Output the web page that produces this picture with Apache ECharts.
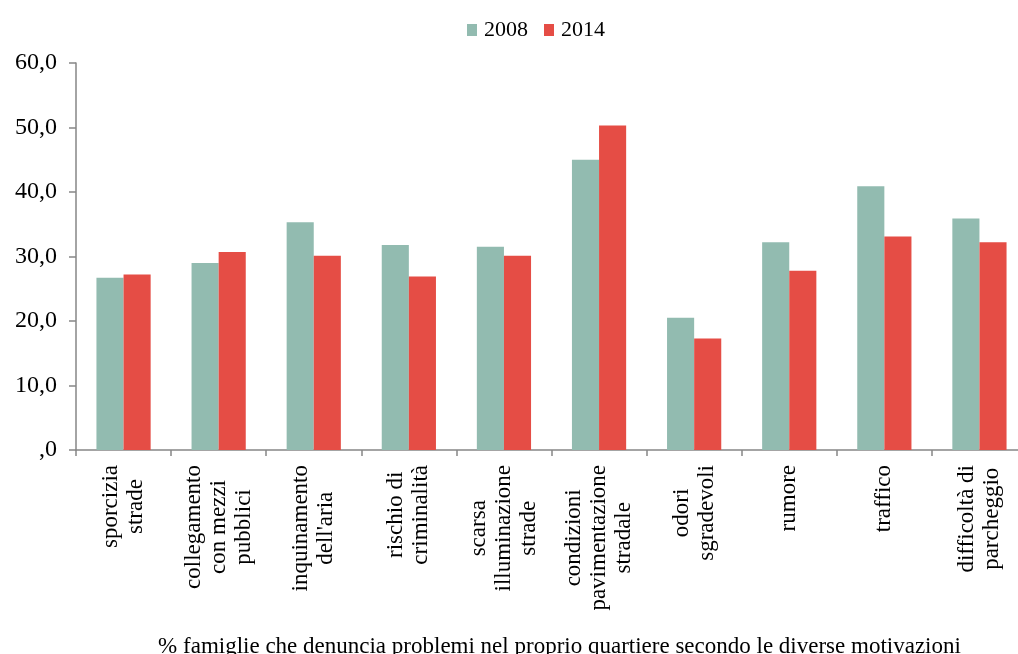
<!DOCTYPE html>
<html>
<head>
<meta charset="utf-8">
<script src="https://cdn.jsdelivr.net/npm/echarts@6/dist/echarts.min.js"></script>
<style>
html,body{margin:0;padding:0;background:#fff;}
#c{width:1018px;height:654px;}
</style>
</head>
<body>
<div id="c"></div>
<script>
const categories = [
  "sporcizia\nstrade",
  "collegamento\ncon mezzi\npubblici",
  "inquinamento\ndell'aria",
  "rischio di\ncriminalità",
  "scarsa\nilluminazione\nstrade",
  "condizioni\npavimentazione\nstradale",
  "odori\nsgradevoli",
  "rumore",
  "traffico",
  "difficoltà di\nparcheggio"
];
const values2008 = [26.7, 29.0, 35.3, 31.8, 31.5, 45.0, 20.5, 32.2, 40.9, 35.9];
const values2014 = [27.2, 30.7, 30.1, 26.9, 30.1, 50.3, 17.3, 27.8, 33.1, 32.2];
const seriesNames = ["2008", "2014"];
const axisTitle = "% famiglie che denuncia problemi nel proprio quartiere secondo le diverse motivazioni";

const FONT = "'Liberation Serif', 'Times New Roman', serif";
const chart = echarts.init(document.getElementById('c'), null, {renderer: 'canvas'});
chart.setOption({
  animation: false,
  backgroundColor: '#ffffff',
  textStyle: {fontFamily: FONT, color: '#000'},
  legend: {
    data: seriesNames,
    top: 14,
    left: 462,
    itemWidth: 10,
    itemHeight: 12,
    itemGap: 16,
    icon: 'rect',
    textStyle: {fontFamily: FONT, fontSize: 22, color: '#000', padding: [0,0,0,2]}
  },
  grid: {left: 76, right: -9, top: 63, bottom: 204, containLabel: false, outerBoundsMode: 'none'},
  xAxis: {
    type: 'category',
    data: categories,
    name: axisTitle,
    nameLocation: 'middle',
    nameGap: 185,
    nameTextStyle: {fontFamily: FONT, fontSize: 23, color: '#000', padding: [0, 0, 0, 16]},
    axisLine: {show: true, lineStyle: {color: '#868686', width: 1.5}},
    axisTick: {show: true, alignWithLabel: false, length: 6, lineStyle: {color: '#868686', width: 1.5}},
    axisLabel: {
      interval: 0,
      rotate: 90,
      margin: 15,
      fontFamily: FONT,
      fontSize: 23,
      color: '#000',
      formatter: function (v) {
        return v.split('\n').map(function (s) { return '{c|' + s + '}'; }).join('\n');
      },
      rich: {c: {align: 'center', fontFamily: FONT, fontSize: 23, lineHeight: 25, color: '#000'}}
    }
  },
  yAxis: {
    type: 'value',
    min: 0,
    max: 60,
    interval: 10,
    splitLine: {show: false},
    axisLine: {show: true, lineStyle: {color: '#868686', width: 1.5}},
    axisTick: {show: true, length: 7, lineStyle: {color: '#868686', width: 1.5}},
    axisLabel: {
      margin: 19,
      fontFamily: FONT,
      fontSize: 24,
      color: '#000',
      formatter: function (v) {
        return v === 0 ? ',0' : v.toFixed(1).replace('.', ',');
      }
    }
  },
  series: [
    {name: seriesNames[0], type: 'bar', data: values2008, barGap: '0%', barCategoryGap: '43%',
     itemStyle: {color: '#92BBB0'}},
    {name: seriesNames[1], type: 'bar', data: values2014, barGap: '0%', barCategoryGap: '43%',
     itemStyle: {color: '#E54D45'}}
  ]
});
</script>
</body>
</html>
